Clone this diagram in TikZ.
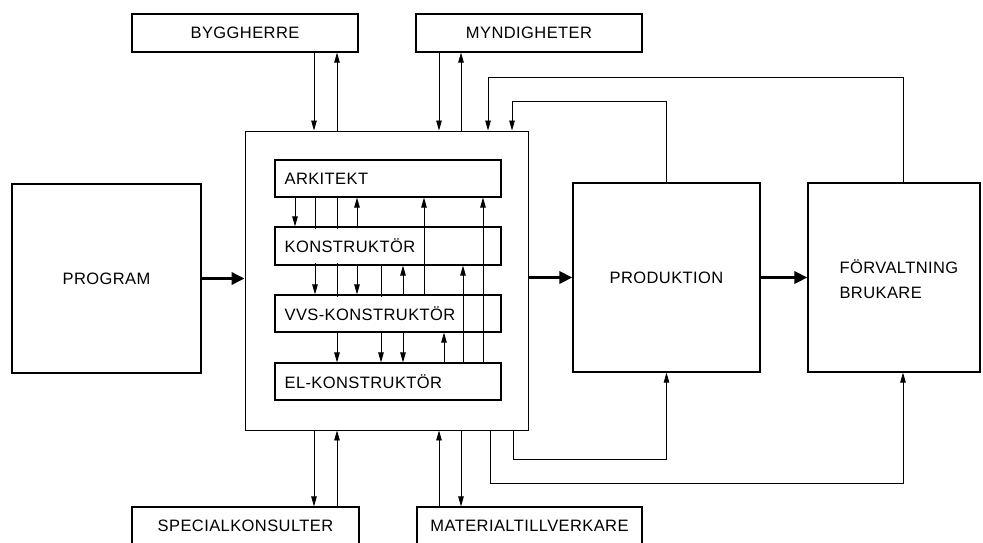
\documentclass[tikz,border=0pt]{standalone}
\usepackage{fontspec}
\setmainfont[LetterSpace=2.5]{Liberation Sans}
\usetikzlibrary{arrows.meta}

\begin{document}
\begin{tikzpicture}[x=1pt,y=-1pt,>={Triangle[length=10pt,width=5.5pt]},
    ruta/.style={draw,line width=1.2pt},
    tunn/.style={line width=0.8pt},
    tjock/.style={line width=3.8pt,-{Triangle[length=13pt,width=12pt]}},
    txt/.style={font=\fontsize{16.5}{25}\selectfont}]

        \useasboundingbox (0,0) rectangle (983,542);

        % Main blocks
        \node[ruta,txt,minimum width=189pt,minimum height=189pt] (prog) at (106.5,278.5) {PROGRAM};
        \node[draw,line width=0.9pt,minimum width=283pt,minimum height=299pt] (haupt) at (386.5,280.5) {};
        \node[ruta,txt,minimum width=187pt,minimum height=189pt] (prod) at (666.5,277.5) {PRODUKTION};
        \node[ruta,minimum width=172pt,minimum height=189pt] (forv) at (894,277.5) {};
        \node[txt,align=left,anchor=west] (forvtxt) at (836,279) {FÖRVALTNING\\BRUKARE};

        % Outer parties
        \node[ruta,txt,minimum width=226pt,minimum height=38pt] (bygg) at (245,33) {BYGGHERRE};
        \node[ruta,txt,minimum width=226pt,minimum height=38pt] (mynd) at (529,33) {MYNDIGHETER};
        \node[ruta,txt,minimum width=227pt,minimum height=38pt] (spec) at (245.5,526) {SPECIALKONSULTER};
        \node[ruta,txt,minimum width=225pt,minimum height=38pt] (mat) at (529.5,526) {MATERIALTILLVERKARE};

        % Consultants
        \node[ruta,minimum width=226pt,minimum height=37pt] (ark) at (388,178.5) {};
        \node[ruta,minimum width=226pt,minimum height=38pt] (kon) at (388,246) {};
        \node[ruta,minimum width=226pt,minimum height=37pt] (vvs) at (388,313.5) {};
        \node[ruta,minimum width=226pt,minimum height=37pt] (el) at (388,381.5) {};

        % Exchange between consultants
        \foreach \x/\a/\b in {295/ark/kon,315/ark/vvs,337/ark/el,357/kon/vvs,381/kon/el,403/vvs/el} {
            \draw[tunn,->] (\x,0 |- \a.south) -- (\x,0 |- \b.north);
        }
        \foreach \x/\a/\b in {357/kon/ark,403/vvs/kon,424/vvs/ark,444/el/vvs,463/el/kon,483/el/ark} {
            \draw[tunn,->] (\x,0 |- \a.north) -- (\x,0 |- \b.south);
        }

        \foreach \n/\t in {ark/ARKITEKT,kon/KONSTRUKTÖR,vvs/VVS-KONSTRUKTÖR,el/EL-KONSTRUKTÖR} {
            \node[txt,fill=white,anchor=west,minimum height=34pt,inner sep=1pt] (\n txt) at ([xshift=9pt]\n.west) {\t};
        }

        % Main flow
        \draw[tjock] (prog.east) -- (prog.east -| haupt.west);
        \draw[tjock] (haupt.east |- prod.west) -- (prod.west);
        \draw[tjock] (prod.east) -- (forv.west);

        % Outer parties to and from the design group
        \draw[tunn,->] (314,0 |- bygg.south) -- (314,0 |- haupt.north);
        \draw[tunn,->] (337,0 |- haupt.north) -- (337,0 |- bygg.south);
        \draw[tunn,->] (439,0 |- mynd.south) -- (439,0 |- haupt.north);
        \draw[tunn,->] (461,0 |- haupt.north) -- (461,0 |- mynd.south);
        \draw[tunn,->] (314,0 |- haupt.south) -- (314,0 |- spec.north);
        \draw[tunn,->] (337,0 |- spec.north) -- (337,0 |- haupt.south);
        \draw[tunn,->] (439,0 |- mat.north) -- (439,0 |- haupt.south);
        \draw[tunn,->] (461,0 |- haupt.south) -- (461,0 |- mat.north);

        % Feedback
        \coordinate (produpp) at (512,101);
        \coordinate (forvupp) at (488,77);
        \coordinate (prodned) at (666.5,459);
        \coordinate (forvned) at (903,483);

        \draw[tunn,->] (prod.north) |- (produpp) -- (produpp |- haupt.north);
        \draw[tunn,->] (903,0 |- forv.north) |- (forvupp) -- (forvupp |- haupt.north);
        \draw[tunn,->] (513,0 |- haupt.south) |- (prodned) -- (prod.south);
        \draw[tunn,->] (490,0 |- haupt.south) |- (forvned) -- (forvned |- forv.south);

\end{tikzpicture}
\end{document}
